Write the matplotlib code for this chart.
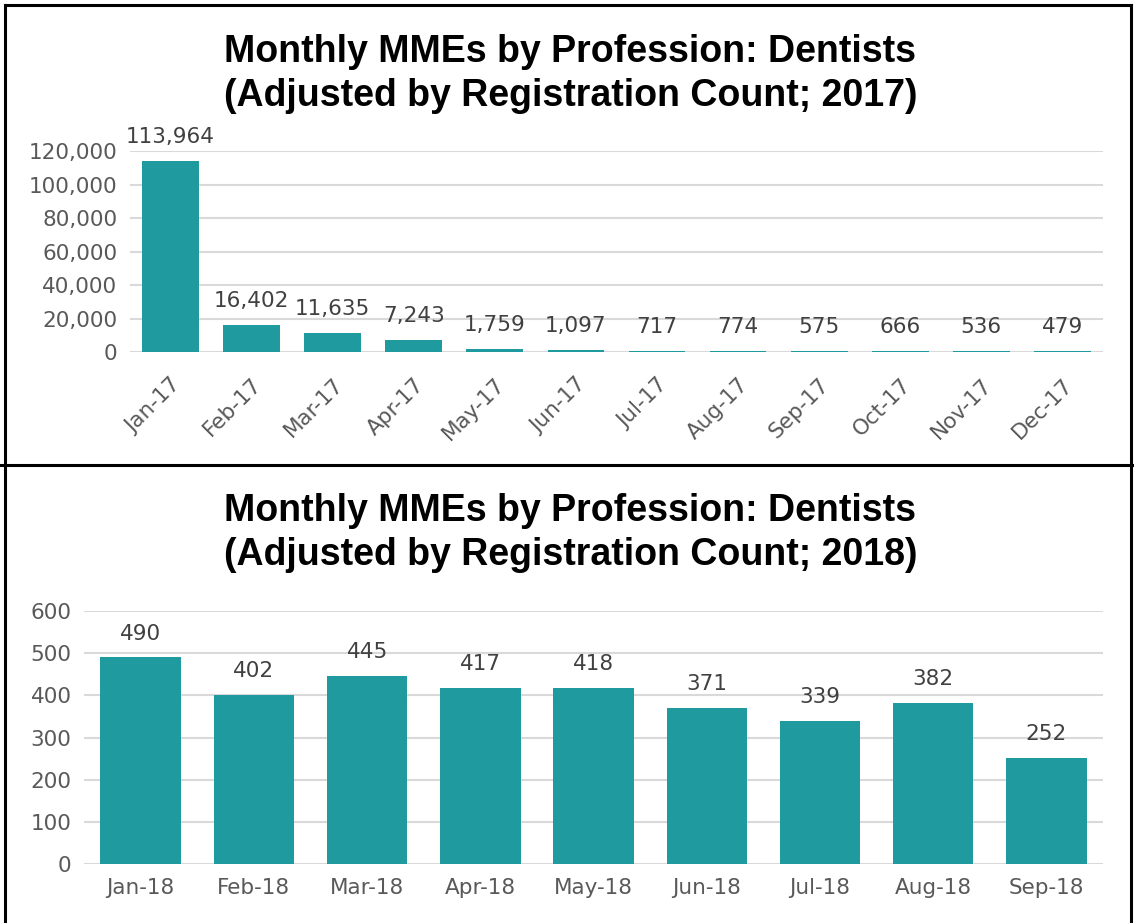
import matplotlib
matplotlib.use('Agg')
import matplotlib.pyplot as plt
from matplotlib.lines import Line2D
from matplotlib.ticker import FuncFormatter

months_2017 = ['Jan-17', 'Feb-17', 'Mar-17', 'Apr-17', 'May-17', 'Jun-17',
               'Jul-17', 'Aug-17', 'Sep-17', 'Oct-17', 'Nov-17', 'Dec-17']
mme_2017 = [113964, 16402, 11635, 7243, 1759, 1097, 717, 774, 575, 666, 536, 479]

months_2018 = ['Jan-18', 'Feb-18', 'Mar-18', 'Apr-18', 'May-18', 'Jun-18',
               'Jul-18', 'Aug-18', 'Sep-18']
mme_2018 = [490, 402, 445, 417, 418, 371, 339, 382, 252]

teal = '#1F9BA0'
tick_grey = '#595959'
label_grey = '#404040'
font = ['DejaVu Sans']
title_font = ['Liberation Sans', 'DejaVu Sans']
fs = 15.5

fig = plt.figure(figsize=(11.34, 9.23), dpi=100)


def style_axis(ax, pad=9):
    for s in ax.spines.values():
        s.set_visible(False)
    ax.yaxis.grid(True, color='#D9D9D9', linewidth=1.5)
    ax.set_axisbelow(True)
    ax.tick_params(length=0, labelsize=fs, labelcolor=tick_grey, pad=9)
    ax.tick_params(axis='x', pad=pad)
    for lab in ax.get_xticklabels() + ax.get_yticklabels():
        lab.set_family(font)


# top panel: 2017
ax1 = fig.add_axes([0.1146, 0.6186, 0.858, 0.2178])
x1 = range(len(months_2017))
ax1.bar(x1, mme_2017, width=0.7, color=teal)
ax1.set_ylim(0, 120000)
ax1.set_yticks(range(0, 120001, 20000))
ax1.yaxis.set_major_formatter(FuncFormatter(lambda v, p: f'{int(v):,}'))
ax1.set_xlim(-0.5, len(months_2017) - 0.5)
ax1.set_xticks(list(x1))
ax1.set_xticklabels(months_2017, rotation=45, ha='right', rotation_mode='anchor')
style_axis(ax1, pad=16)
for i, v in enumerate(mme_2017):
    ax1.annotate(f'{v:,}', (i, v), xytext=(0, 10), textcoords='offset points',
                 ha='center', va='bottom', fontsize=fs, color=label_grey, family=font)

fig.text(0.503, 0.920, 'Monthly MMEs by Profession: Dentists\n(Adjusted by Registration Count; 2017)',
         ha='center', va='center', fontsize=27, fontweight='bold', family=title_font,
         linespacing=1.3)

# bottom panel: 2018
ax2 = fig.add_axes([0.0741, 0.0639, 0.8986, 0.2741])
x2 = range(len(months_2018))
ax2.bar(x2, mme_2018, width=0.71, color=teal)
ax2.set_ylim(0, 600)
ax2.set_yticks(range(0, 601, 100))
ax2.set_xlim(-0.5, len(months_2018) - 0.5)
ax2.set_xticks(list(x2))
ax2.set_xticklabels(months_2018)
style_axis(ax2, pad=10)
for i, v in enumerate(mme_2018):
    ax2.annotate(str(v), (i, v), xytext=(0, 10), textcoords='offset points',
                 ha='center', va='bottom', fontsize=fs, color=label_grey, family=font)

fig.text(0.503, 0.4225, 'Monthly MMEs by Profession: Dentists\n(Adjusted by Registration Count; 2018)',
         ha='center', va='center', fontsize=27, fontweight='bold', family=title_font,
         linespacing=1.3)

# panel borders
W, H = 1134.0, 923.0
lw = 2.2
for (xa, ya, xb, yb) in [(5, 5, 1131, 5), (5, 5, 5, 923), (1131, 5, 1131, 923), (0, 465, 1134, 465)]:
    fig.add_artist(Line2D([xa / W, xb / W], [1 - ya / H, 1 - yb / H], color='black', linewidth=lw))

fig.savefig('out.png', dpi=100)
